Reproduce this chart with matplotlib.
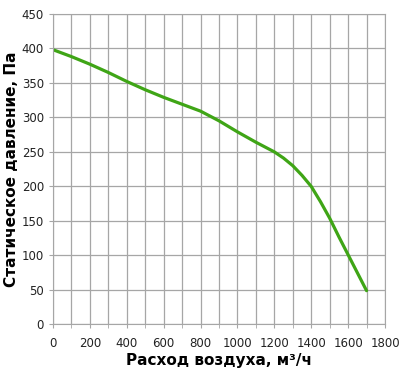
import matplotlib
matplotlib.use("Agg")
import matplotlib.pyplot as plt

flow = [0, 100, 200, 300, 400, 500, 600, 700, 800, 900, 1000, 1100, 1200,
        1250, 1300, 1350, 1400, 1450, 1500, 1550, 1600, 1650, 1700]
pressure = [398, 388, 377, 365, 352, 340, 329, 319, 309, 295, 279, 264, 250,
            241, 230, 216, 200, 178, 154, 127, 101, 75, 49]
xticks = [0, 200, 400, 600, 800, 1000, 1200, 1400, 1600, 1800]
yticks = [0, 50, 100, 150, 200, 250, 300, 350, 400, 450]

fig = plt.figure(figsize=(4.0, 3.69), dpi=100)
ax = fig.add_axes([0.1325, 0.1206, 0.83, 0.842])
ax.plot(flow, pressure, color="#3fa516", lw=2.3, solid_capstyle="round", solid_joinstyle="round")
ax.set_xlim(0, 1800)
ax.set_ylim(0, 450)
ax.set_xticks(xticks)
ax.set_yticks(yticks)
ax.set_xticks(range(0, 1801, 100), minor=True)
ax.grid(True, which="both", color="#a6a6a6", lw=0.9)
for s in ax.spines.values():
    s.set_color("#a6a6a6")
ax.tick_params(which="both", direction="out", length=3, color="#a6a6a6", labelsize=8.5, labelcolor="#222222")
ax.tick_params(axis="x", pad=6)
ax.set_xlabel("Расход воздуха, м³/ч", fontsize=11, fontweight="bold", labelpad=2)
ax.set_ylabel("Статическое давление, Па", fontsize=11, fontweight="bold", labelpad=2)
fig.savefig("out.png", dpi=100)
